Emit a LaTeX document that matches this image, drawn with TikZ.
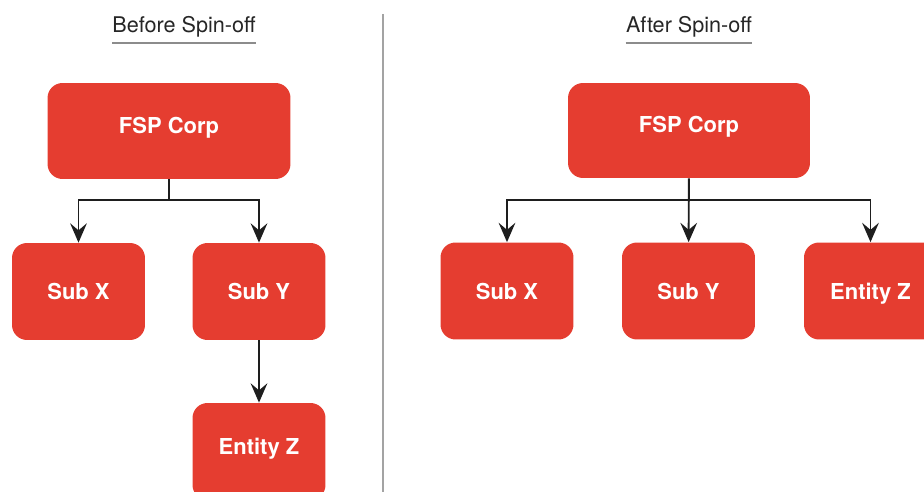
\documentclass[tikz,border=0pt]{standalone}
\usepackage{fontspec}
\setmainfont{TeX Gyre Heros}
\usetikzlibrary{arrows.meta}
\definecolor{boxred}{RGB}{229,61,48}
\definecolor{arrowgray}{RGB}{30,30,30}
\definecolor{rulegray}{RGB}{140,140,140}

\begin{document}
\begin{tikzpicture}[x=0.02cm,y=-0.02cm]
\useasboundingbox (0,0) rectangle (924,492);

% titles and divider
\begin{scope}[every node/.style={inner xsep=0pt,font=\fontsize{12.3}{14}\selectfont,text=black!85}]
    \node[anchor=base] (tb) at (184,33) {Before Spin-off};
    \node[anchor=base] (ta) at (689,33) {After Spin-off};
\end{scope}
\draw[rulegray,line width=1pt] ([yshift=-5.7pt]tb.base west) -- ([yshift=-5.7pt]tb.base east);
\draw[rulegray,line width=1pt] ([yshift=-5.7pt]ta.base west) -- ([yshift=-5.7pt]ta.base east);
\draw[rulegray!80,line width=1.1pt] (383,14) -- (383,492);

\begin{scope}[every node/.style={rectangle,rounded corners=0.3cm,fill=boxred,text=white,
              font=\bfseries\fontsize{12.5}{14}\selectfont,text height=0.716em+2pt,text depth=0pt,
              minimum width=2.66cm,minimum height=1.94cm}]
    % before
    \node[minimum width=4.86cm,minimum height=1.92cm,text depth=6.8pt] (fb) at (169,131) {FSP Corp};
    \node (xb) at (78.5,291.5) {Sub X};
    \node (yb) at (259,291.5) {Sub Y};
    \node[text depth=6pt] (zb) at (259,451.5) {Entity Z};
    % after
    \node[minimum width=4.84cm,minimum height=1.9cm,text depth=6.8pt] (fa) at (689,130.5) {FSP Corp};
    \node (xa) at (507,291) {Sub X};
    \node (ya) at (688.5,291) {Sub Y};
    \node (za) at (870.5,291) {Entity Z};
\end{scope}

\coordinate (jb) at (169,200);
\coordinate (ja) at (689,200);

\begin{scope}[>={Stealth[length=11pt,width=9.5pt,inset=4pt]},
              every path/.style={draw=arrowgray,line width=1.1pt}]
    \draw (fb.south) -- (jb);
    \draw [->] (jb) -| (xb.north);
    \draw [->] (jb) -| (yb.north);
    \path [->] (yb) edge (zb);
    \path [->] (fa) edge (ya);
    \draw [->] (ja) -| (xa.north);
    \draw [->] (ja) -| (za.north);
\end{scope}
\end{tikzpicture}
\end{document}
